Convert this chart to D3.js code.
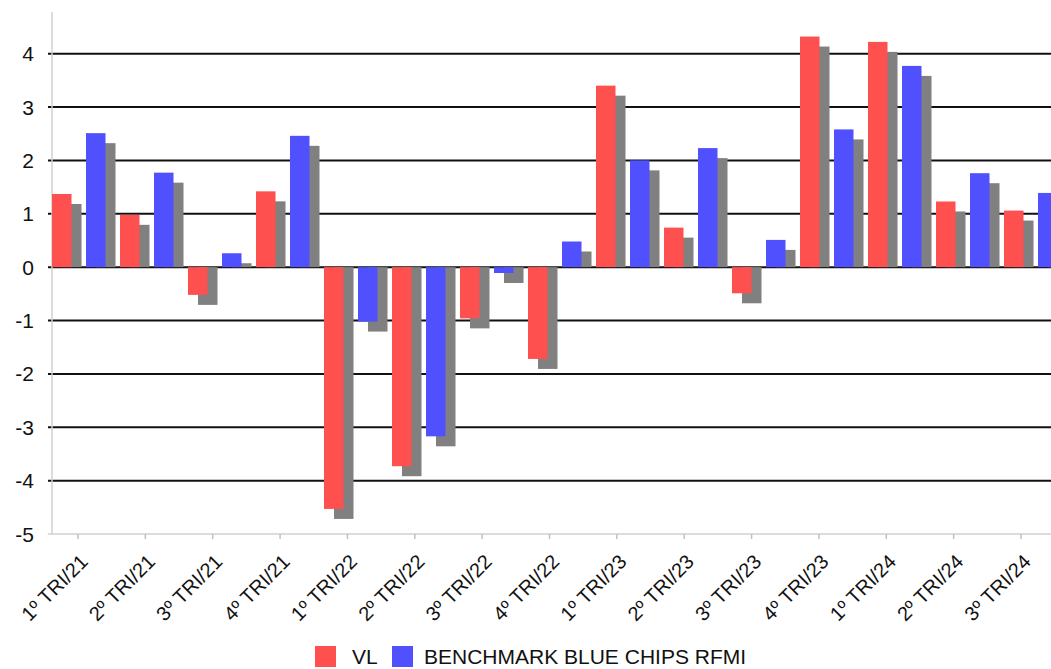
<!DOCTYPE html>
<html>
<head>
<meta charset="utf-8">
<script src="https://cdn.jsdelivr.net/npm/d3@7"></script>
<style>
  body { margin: 0; background: #fff; }
  svg { display: block; }
</style>
</head>
<body>
<div id="chart"></div>
<script>
// data
var categories = ["1º TRI/21", "2º TRI/21", "3º TRI/21", "4º TRI/21",
                  "1º TRI/22", "2º TRI/22", "3º TRI/22", "4º TRI/22",
                  "1º TRI/23", "2º TRI/23", "3º TRI/23", "4º TRI/23",
                  "1º TRI/24", "2º TRI/24", "3º TRI/24"];
var vl        = [1.37, 0.98, -0.52, 1.42, -4.53, -3.73, -0.96, -1.72, 3.40, 0.74, -0.49, 4.32, 4.22, 1.23, 1.06];
var benchmark = [2.51, 1.77, 0.26, 2.46, -1.02, -3.17, -0.11, 0.48, 2.00, 2.23, 0.51, 2.58, 3.77, 1.76, 1.39];
var seriesNames = ["VL", "BENCHMARK BLUE CHIPS RFMI"];
var yTicks = [-5, -4, -3, -2, -1, 0, 1, 2, 3, 4];

// format
var W = 1051, H = 669;
var plotLeft = 52, plotTop = 12, plotBottom = 534;
var step = 68;          // group width
var barW = 19.5;
var shadow = 10;        // shadow offset
var fontF = "Liberation Sans, Arial, sans-serif";
var red = "#ff5050", blue = "#5050ff", grey = "#808080";

var svg = d3.select("#chart").append("svg")
  .attr("width", W).attr("height", H);

var y = d3.scaleLinear().domain([-5, 4.78]).range([plotBottom, plotTop]);
var x = d3.scaleBand().domain(categories)
  .range([plotLeft, plotLeft + step * categories.length]).padding(0);
// tick marks sit slightly off the bar groups in the original
var xt = d3.scalePoint().domain(categories).range([78, 1021]);

// gridlines
svg.append("g").selectAll("line").data(yTicks.filter(function(d){ return d > -5; }))
  .join("line")
  .attr("x1", plotLeft - 4).attr("x2", W)
  .attr("y1", function(d){ return y(d); }).attr("y2", function(d){ return y(d); })
  .style("stroke", "#111").style("stroke-width", 2);

// axes lines
svg.append("line")
  .attr("x1", plotLeft).attr("x2", plotLeft).attr("y1", plotTop).attr("y2", plotBottom)
  .style("stroke", "#d0d0d0").style("stroke-width", 1.5);
svg.append("line")
  .attr("x1", plotLeft - 4).attr("x2", W).attr("y1", plotBottom).attr("y2", plotBottom)
  .style("stroke", "#d0d0d0").style("stroke-width", 1.5);

// y labels
svg.append("g").selectAll("text").data(yTicks).join("text")
  .attr("x", 34).attr("y", function(d){ return y(d); })
  .attr("dy", "0.36em")
  .attr("text-anchor", "end")
  .style("font-family", fontF).style("font-size", "21px").style("fill", "#111")
  .text(function(d){ return d; });

// x ticks and labels
svg.append("g").selectAll("line").data(categories).join("line")
  .attr("x1", function(d){ return xt(d); }).attr("x2", function(d){ return xt(d); })
  .attr("y1", plotBottom).attr("y2", plotBottom + 5)
  .style("stroke", "#c0c0c0").style("stroke-width", 1.5);

svg.append("g").selectAll("text").data(categories).join("text")
  .attr("transform", function(d){ return "translate(" + (xt(d) + 11) + "," + (plotBottom + 29) + ") rotate(-45)"; })
  .attr("text-anchor", "end")
  .style("font-family", fontF).style("font-size", "20px").style("fill", "#111")
  .text(function(d){ return d; });

// bars
var series = [vl, benchmark];
var colors = [red, blue];
series.forEach(function(vals, s){
  var off = s === 0 ? 0 : 34;
  // shadows
  svg.append("g").selectAll("rect").data(vals).join("rect")
    .attr("x", function(d, i){ return x(categories[i]) + off + shadow; })
    .attr("y", function(d){ return d >= 0 ? Math.min(y(d) + shadow, y(0)) : y(0); })
    .attr("width", barW)
    .attr("height", function(d){ return d >= 0 ? Math.max(0, y(0) - y(d) - shadow) : y(d) + shadow - y(0); })
    .style("fill", grey);
});
series.forEach(function(vals, s){
  var off = s === 0 ? 0 : 34;
  svg.append("g").selectAll("rect").data(vals).join("rect")
    .attr("x", function(d, i){ return x(categories[i]) + off; })
    .attr("y", function(d){ return d >= 0 ? y(d) : y(0); })
    .attr("width", barW)
    .attr("height", function(d){ return Math.abs(y(d) - y(0)); })
    .style("fill", colors[s]);
});

// legend
var lg = svg.append("g");
lg.append("rect").attr("x", 315).attr("y", 646).attr("width", 21).attr("height", 21).style("fill", red);
lg.append("text").attr("x", 352).attr("y", 664).text(seriesNames[0])
  .style("font-family", fontF).style("font-size", "21px").style("fill", "#111");
lg.append("rect").attr("x", 392).attr("y", 646).attr("width", 21).attr("height", 21).style("fill", blue);
lg.append("text").attr("x", 424).attr("y", 664).text(seriesNames[1])
  .style("font-family", fontF).style("font-size", "21px").style("fill", "#111");
</script>
</body>
</html>
